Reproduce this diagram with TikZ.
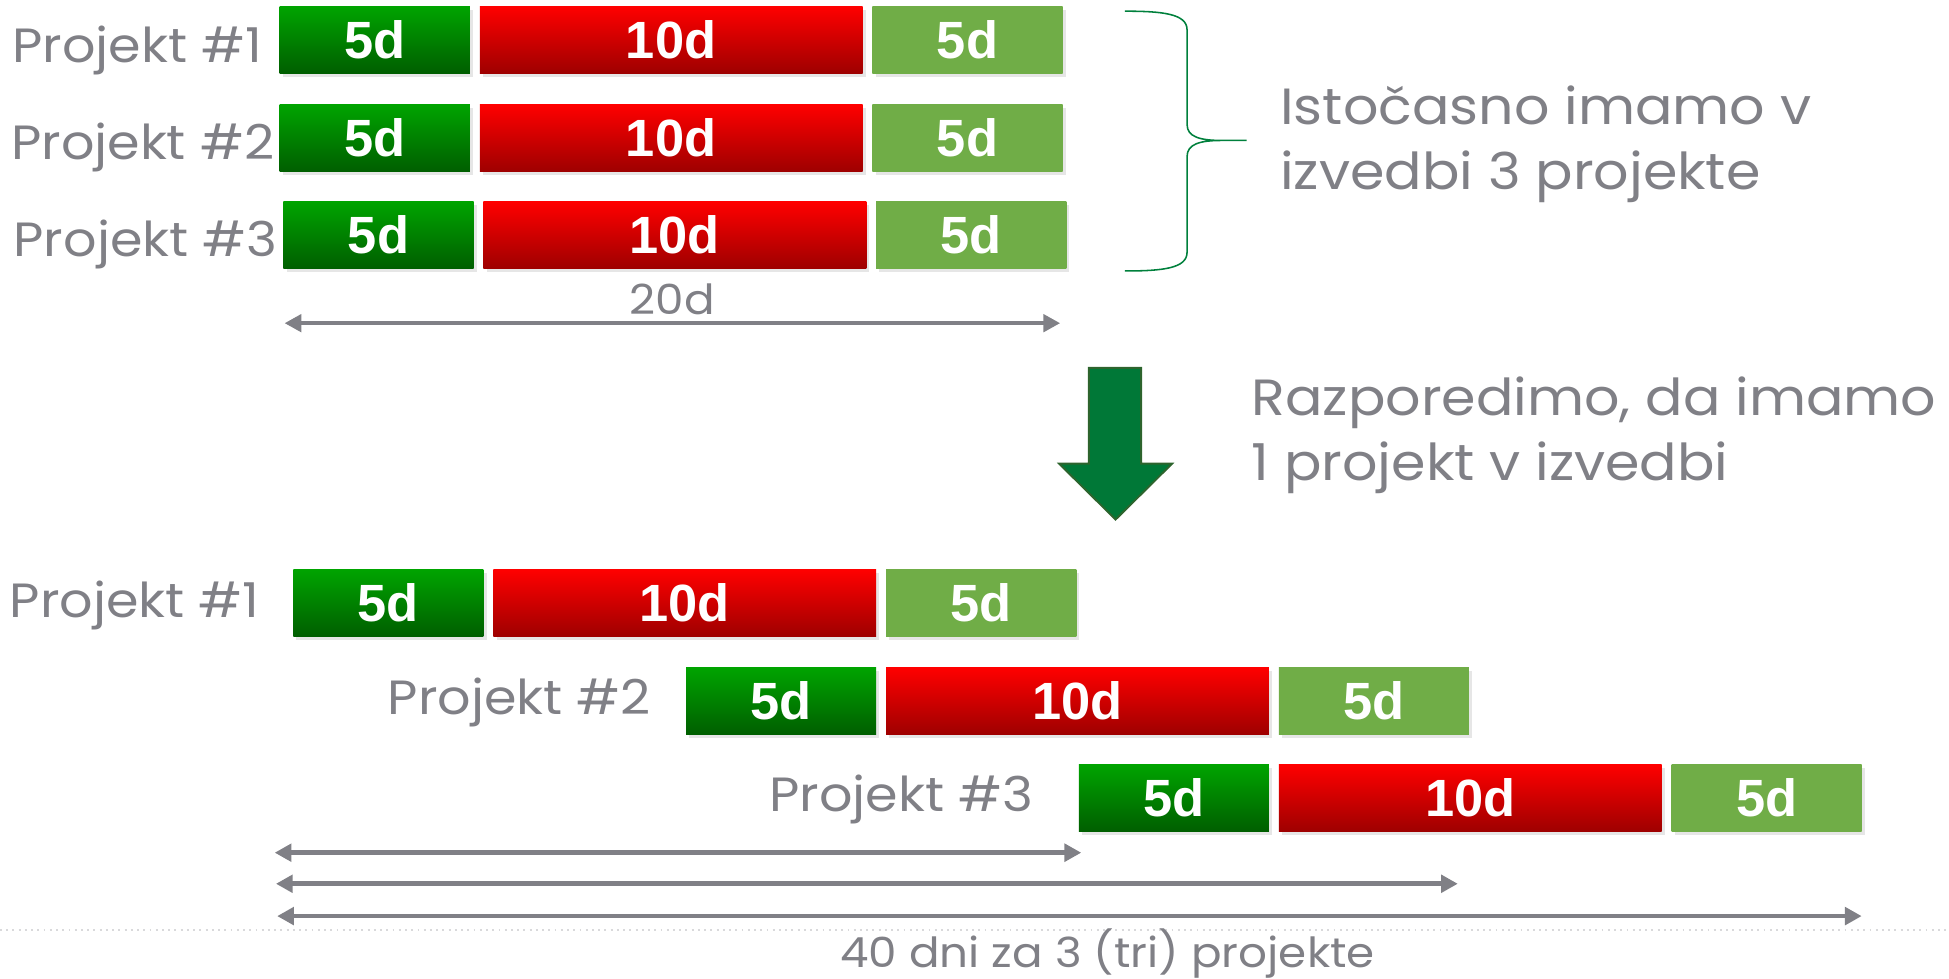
\documentclass[tikz,border=0pt]{standalone}
\usepackage{fontspec}
\setmainfont{Poppins}[FakeStretch=1.09]
\newfontfamily\barfont{Liberation Sans}
\usetikzlibrary{positioning,shadows,arrows.meta,calc}

\definecolor{labelgray}{RGB}{128,128,134}
\definecolor{startgreen}{RGB}{0,164,0}
\definecolor{startgreendark}{RGB}{0,94,0}
\definecolor{workred}{RGB}{255,0,0}
\definecolor{workreddark}{RGB}{158,0,0}
\definecolor{endgreen}{RGB}{112,173,71}
\definecolor{bracegreen}{RGB}{0,128,60}
\definecolor{movegreen}{RGB}{0,120,55}
\definecolor{moveedge}{RGB}{45,100,45}

\begin{document}
\begin{tikzpicture}[x=0.02cm,y=-0.02cm,node distance=0.16cm,outer sep=0pt,
  phaseA/.style={
    inner sep=0pt,
    minimum width=3.06cm,
    minimum height=1.08cm,
    top color=startgreen,
    bottom color=startgreendark,
    drop shadow={shadow xshift=0.05cm,shadow yshift=-0.06cm,opacity=0.2},
    font={\barfont\bfseries\fontsize{24}{24}\selectfont\color{white}},
    },
  phaseB/.style={phaseA,minimum width=6.16cm,top color=workred,bottom color=workreddark},
  phaseC/.style={phaseA,top color=endgreen,bottom color=endgreen},
  plabel/.style={inner sep=0pt,font={\fontsize{22}{26}\selectfont\color{labelgray}}},
  small/.style={plabel,font={\fontsize{19}{22}\selectfont\color{labelgray}}},
  note/.style={plabel,align=left,font={\fontsize{23.3}{29.6}\selectfont\color{labelgray}}},
  span/.style={labelgray,line width=0.075cm,{Triangle[length=0.27cm,width=0.28cm]}-{Triangle[length=0.27cm,width=0.28cm]}},
  ]

  \useasboundingbox (0,0) rectangle (1568,787);

  % all three projects at once
  \node[phaseA, anchor=north west] (g1) at (225,5) {5d};
  \node[phaseB, right=of g1] (r1) {10d};
  \node[phaseC, right=of r1] (l1) {5d};

  \node[phaseA, below=0.5cm of g1.south west, anchor=north west] (g2) {5d};
  \node[phaseB, right=of g2] (r2) {10d};
  \node[phaseC, right=of r2] (l2) {5d};

  \node[phaseA, below=0.48cm of g2.south west, anchor=north west, xshift=0.06cm] (g3) {5d};
  \node[phaseB, right=of g3] (r3) {10d};
  \node[phaseC, right=of r3] (l3) {5d};

  \node[plabel, anchor=base west, yshift=-0.36cm] (p1) at (10,0 |- g1.center) {Projekt \#1};
  \node[plabel, anchor=base west, yshift=-0.35cm] (p2) at (9,0 |- g2.center) {Projekt \#2};
  \node[plabel, anchor=base west, yshift=-0.35cm] (p3) at (11,0 |- g3.center) {Projekt \#3};

  \coordinate (a0) at (229,260);
  \draw[span, line width=0.06cm] (a0) -- ($(a0 -| l3.east)+(-5,0)$) node[small, midway, above, inner sep=0.13cm] (dur) {20d};

  % brace round the three rows
  \draw[bracegreen, line width=0.025cm] (905,9) .. controls (935,9) and (955,11) .. (955,24)
    -- (955,100) .. controls (955,110) and (965,113) .. (983,113) -- (1003,113)
    -- (983,113) .. controls (965,113) and (955,116) .. (955,126)
    -- (955,203) .. controls (955,216) and (935,218) .. (905,218);
  \node[note, anchor=west] (simul) at (1030,116) {Istočasno imamo v\\izvedbi 3 projekte};

  % arrow down
  \filldraw[movegreen, draw=moveedge, line width=0.03cm] (876,296) -- (918,296) -- (918,373) -- (943,373)
    -- (897.5,418) -- (852,373) -- (876,373) -- cycle;
  \node[note, anchor=west] (shift) at (1007,350) {Razporedimo, da imamo\\1 projekt v izvedbi};

  % one project after the other
  \node[phaseA, anchor=north west] (g4) at (236,458) {5d};
  \node[phaseB, right=of g4] (r4) {10d};
  \node[phaseC, right=of r4] (l4) {5d};

  \node[phaseA, below=0.5cm of r4.south east, anchor=north east] (g5) {5d};
  \node[phaseB, right=of g5] (r5) {10d};
  \node[phaseC, right=of r5] (l5) {5d};

  \node[phaseA, below=0.48cm of r5.south east, anchor=north east] (g6) {5d};
  \node[phaseB, right=of g6] (r6) {10d};
  \node[phaseC, right=of r6] (l6) {5d};

  \node[plabel, anchor=base west, yshift=-0.23cm] (p4) at (8,0 |- g4.center) {Projekt \#1};
  \node[plabel, anchor=base west, yshift=-0.22cm] (p5) at (312,0 |- g5.center) {Projekt \#2};
  \node[plabel, anchor=base west, yshift=-0.22cm] (p6) at (619,0 |- g6.center) {Projekt \#3};

  \coordinate (a1) at (221,686);
  \coordinate (a2) at (222,711);
  \coordinate (a3) at (223,737);
  \draw[span] (a1) -- ($(a1 -| l4.east)+(4,0)$);
  \draw[span] (a2) -- ($(a2 -| l5.east)+(-9,0)$);
  \draw[span] (a3) -- (a3 -| l6.east);

  \draw[labelgray!30, dotted, line width=0.03cm] (0,748) -- (1568,748);
  \node[small, anchor=base] (total) at (891,778) {40 dni za 3 (tri) projekte};

\end{tikzpicture}
\end{document}
